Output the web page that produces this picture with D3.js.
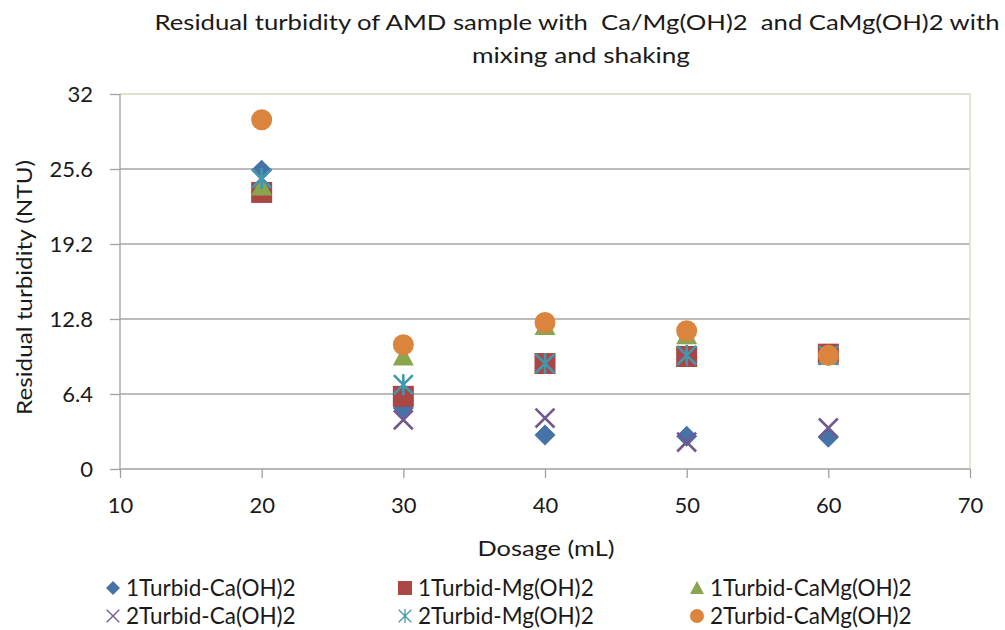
<!DOCTYPE html>
<html>
<head>
<meta charset="utf-8">
<script src="https://cdn.jsdelivr.net/npm/d3@7"></script>
<style>
  html, body { margin: 0; padding: 0; background: #fff; }
  svg { display: block; font-family: Lato, "Open Sans", sans-serif; }
  .title { white-space: pre; }
</style>
</head>
<body>
<svg id="chart" width="1005" height="630"></svg>
<script>
// Dosage levels (mL)
const dosage = [20, 30, 40, 50, 60];

// Residual turbidity (NTU) per series
const turbid1Ca   = [25.5, 5.2, 2.9, 2.8, 2.7];
const turbid1Mg   = [23.6, 6.2, 9.0, 9.6, 9.8];
const turbid1CaMg = [24.1, 9.6, 12.2, 11.4, 9.7];
const turbid2Ca   = [24.8, 4.2, 4.35, 2.3, 3.5];
const turbid2Mg   = [24.8, 7.2, 9.0, 9.7, 9.7];
const turbid2CaMg = [29.8, 10.6, 12.5, 11.8, 9.7];

const seriesNames = [
  "1Turbid-Ca(OH)2", "1Turbid-Mg(OH)2", "1Turbid-CaMg(OH)2",
  "2Turbid-Ca(OH)2", "2Turbid-Mg(OH)2", "2Turbid-CaMg(OH)2"
];

// Axis ticks
const yTicks = [0, 6.4, 12.8, 19.2, 25.6, 32];
const xTicks = [10, 20, 30, 40, 50, 60, 70];

const titleLines = [
  "Residual turbidity of AMD sample with  Ca/Mg(OH)2  and CaMg(OH)2 with",
  "mixing and shaking"
];

const seriesValues = [turbid1Ca, turbid1Mg, turbid1CaMg, turbid2Ca, turbid2Mg, turbid2CaMg];
const styles = [
  { shape: "diamond",  color: "#4572A7" },
  { shape: "square",   color: "#AA4643" },
  { shape: "triangle", color: "#89A54E" },
  { shape: "x",        color: "#71588F" },
  { shape: "star",     color: "#4198AF" },
  { shape: "circle",   color: "#DB843D" }
];

const svg = d3.select("#chart");
const m = { left: 120, top: 94, right: 970, bottom: 469 };
const textColor = "#1a1a1a";

const x = d3.scaleLinear().domain([10, 70]).range([m.left, m.right]);
const y = d3.scaleLinear().domain([0, 32]).range([m.bottom, m.top]);

// Horizontal gridlines
svg.append("g").selectAll("line")
  .data(yTicks.filter(t => t > 0 && t < 32))
  .join("line")
  .attr("x1", m.left).attr("x2", m.right)
  .attr("y1", d => y(d)).attr("y2", d => y(d))
  .attr("stroke", "#a6a6a6").attr("stroke-width", 1.3);

// Plot-area border (top and right)
svg.append("path")
  .attr("d", `M${m.left},${m.top}H${m.right}V${m.bottom}`)
  .attr("fill", "none").attr("stroke", "#d9d5bc").attr("stroke-width", 1.3);

// Y axis
const yAxis = svg.append("g")
  .attr("transform", `translate(${m.left},0)`)
  .call(d3.axisLeft(y).tickValues(yTicks).tickSize(10).tickPadding(17)
    .tickFormat(d => String(d)));
// X axis
const xAxis = svg.append("g")
  .attr("transform", `translate(0,${m.bottom})`)
  .call(d3.axisBottom(x).tickValues(xTicks).tickSize(9).tickPadding(19));

[yAxis, xAxis].forEach(a => {
  a.select(".domain").attr("stroke", "#a0a0a0").attr("stroke-width", 1.3);
  a.selectAll(".tick line").attr("stroke", "#a0a0a0").attr("stroke-width", 1.3);
  a.selectAll("text").attr("font-size", 22).attr("fill", textColor)
    .attr("font-family", "Lato, 'Open Sans', sans-serif");
});
yAxis.select(".domain").attr("d", `M0,${m.top}V${m.bottom}`);
xAxis.select(".domain").attr("d", `M${m.left},0H${m.right}`);
yAxis.selectAll("text").attr("dy", "0.34em");

// Marker symbol generator
function marker(g, shape, color, s) {
  const h = s / 2;
  if (shape === "diamond") {
    g.append("path").attr("d", `M0,${-h}L${h},0L0,${h}L${-h},0Z`).attr("fill", color);
  } else if (shape === "square") {
    g.append("rect").attr("x", -h).attr("y", -h).attr("width", s).attr("height", s)
      .attr("fill", color);
  } else if (shape === "triangle") {
    g.append("path").attr("d", `M0,${-h}L${h},${h * 0.85}L${-h},${h * 0.85}Z`).attr("fill", color);
  } else if (shape === "circle") {
    g.append("circle").attr("r", h).attr("fill", color);
  } else if (shape === "x") {
    const k = h * 0.9;
    g.append("path").attr("d", `M${-k},${-k}L${k},${k}M${k},${-k}L${-k},${k}`)
      .attr("stroke", color).attr("stroke-width", s > 14 ? 2.6 : 1.3).attr("fill", "none");
  } else if (shape === "star") {
    const k = h * 0.9;
    g.append("path").attr("d", `M${-k},${-k}L${k},${k}M${k},${-k}L${-k},${k}M0,${-h}V${h}`)
      .attr("stroke", color).attr("stroke-width", s > 14 ? 2.6 : 1.3).attr("fill", "none");
  }
}

// Data points, series drawn in order
seriesValues.forEach((vals, i) => {
  const g = svg.append("g").attr("class", "series");
  vals.forEach((v, j) => {
    const p = g.append("g").attr("transform", `translate(${x(dosage[j])},${y(v)})`);
    marker(p, styles[i].shape, styles[i].color, 21);
  });
});

// Title
svg.append("g").selectAll("text")
  .data(titleLines)
  .join("text")
  .attr("class", "title")
  .attr("x", (d, i) => i === 0 ? 577 : 581)
  .attr("y", (d, i) => 30 + i * 33)
  .attr("text-anchor", "middle")
  .attr("font-size", 22)
  .attr("fill", textColor)
  .attr("textLength", (d, i) => i === 0 ? 845 : 218)
  .attr("lengthAdjust", "spacingAndGlyphs")
  .text(d => d);

// Axis titles
svg.append("text")
  .attr("x", x(40) + 1).attr("y", 556)
  .attr("text-anchor", "middle").attr("font-size", 22).attr("fill", textColor)
  .attr("textLength", 137).attr("lengthAdjust", "spacingAndGlyphs")
  .text("Dosage (mL)");
svg.append("text")
  .attr("transform", `translate(32,${(m.top + m.bottom) / 2 + 6}) rotate(-90)`)
  .attr("text-anchor", "middle").attr("font-size", 22).attr("fill", textColor)
  .attr("textLength", 255).attr("lengthAdjust", "spacingAndGlyphs")
  .text("Residual turbidity (NTU)");

// Legend
const legendX = [113, 405, 697];
const legendY = [588, 616];
seriesNames.forEach((name, i) => {
  const col = i % 3, row = Math.floor(i / 3);
  const g = svg.append("g").attr("transform", `translate(${legendX[col]},${legendY[row]})`);
  marker(g, styles[i].shape, styles[i].color, 14);
  g.append("text").attr("x", 13).attr("y", 0).attr("dy", "0.36em")
    .attr("font-size", 22.5).attr("fill", textColor).text(name);
});
</script>
</body>
</html>
